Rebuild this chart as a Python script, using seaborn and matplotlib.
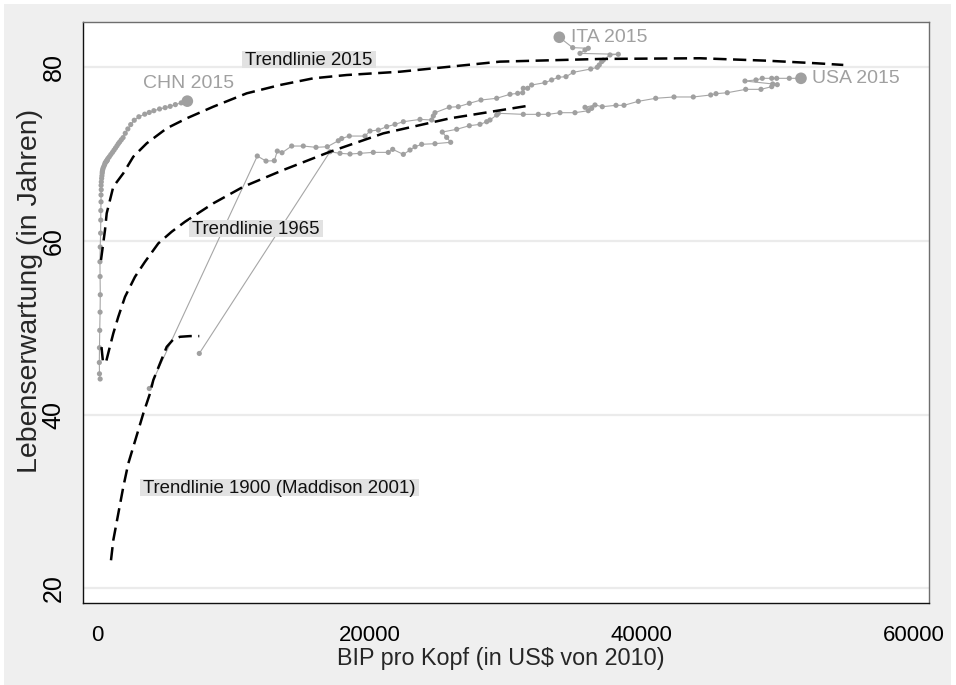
import numpy as np
import pandas as pd
import seaborn as sns
import matplotlib
matplotlib.use("Agg")
import matplotlib.pyplot as plt
from matplotlib.patches import Rectangle

# ---------------- data ----------------
chn_gdp = [195, 145, 135, 145, 165, 190, 205, 190, 180, 200,
           230, 240, 245, 260, 260, 275, 265, 280, 305, 325,
           345, 355, 380, 415, 470, 525, 565, 620, 680, 700,
           715, 770, 870, 980, 1100, 1210, 1320, 1430, 1530, 1630,
           1750, 1880, 2040, 2230, 2440, 2700, 3040, 3470, 3800, 4140,
           4560, 4970, 5340, 5720, 6150, 6600]
chn_le = [44.1, 44.7, 46.0, 47.7, 49.7, 51.8, 53.8, 55.9, 57.6, 59.3,
          60.9, 62.4, 63.5, 64.5, 65.3, 65.9, 66.4, 66.8, 67.2, 67.5,
          67.8, 68.0, 68.2, 68.4, 68.6, 68.8, 69.0, 69.1, 69.2, 69.3,
          69.3, 69.5, 69.7, 69.95, 70.2, 70.45, 70.7, 70.95, 71.2, 71.4,
          71.65, 71.9, 72.4, 72.9, 73.4, 73.9, 74.3, 74.6, 74.8, 75.0,
          75.2, 75.35, 75.5, 75.7, 75.9, 76.1]

ita_gdp = [3806, 11742, 12381, 12991, 13212, 13556, 14269, 15121, 16055, 16885,
           17693, 17942, 18502, 19655, 20022, 20636, 21249, 21859, 22472, 23696,
           24555, 24675, 24798, 25849, 26512, 27320, 28178, 29331, 30309, 30874,
           31241, 31285, 31606, 31900, 32880, 33370, 33860, 34424, 34960, 36237,
           36722, 36869, 37046, 37164, 37656, 38266, 35452, 35820, 36062, 34915,
           33931]
ita_le = [43.0, 69.78, 69.2, 69.24, 70.35, 70.16, 70.93, 70.93, 70.78, 70.85,
          71.54, 71.8, 72.08, 72.08, 72.66, 72.77, 73.16, 73.43, 73.73, 74.0,
          73.93, 74.39, 74.77, 75.4, 75.46, 75.85, 76.23, 76.43, 76.89, 77.0,
          77.07, 77.58, 77.58, 77.96, 78.23, 78.54, 78.85, 78.92, 79.42, 79.8,
          80.0, 80.27, 80.65, 80.84, 81.42, 81.5, 81.6, 81.99, 82.19, 82.26,
          83.46]

usa_gdp = [7480, 17083, 17818, 18553, 19287, 20264, 21367, 21690, 22472, 22962,
           23329, 23818, 24798, 25950, 25656, 25334, 26393, 27320, 28104, 28594,
           28839, 29331, 29450, 31285, 32388, 33123, 33982, 35085, 36062, 36311,
           35820, 36554, 37090, 38097, 38685, 39736, 41014, 42358, 43777, 45055,
           45444, 46274, 47627, 48751, 49537, 49949, 49610, 47575, 48383, 48846,
           49537, 49903, 50830, 51690]
usa_le = [47.04, 70.27, 70.09, 70.01, 70.09, 70.2, 70.2, 70.55, 69.97, 70.47,
          70.85, 71.13, 71.2, 71.36, 71.93, 72.54, 72.86, 73.27, 73.43, 73.73,
          73.93, 74.5, 74.7, 74.58, 74.58, 74.58, 74.77, 74.77, 75.0, 75.27,
          75.39, 75.66, 75.46, 75.62, 75.62, 76.08, 76.43, 76.58, 76.58, 76.81,
          76.96, 77.07, 77.46, 77.46, 77.77, 78.0, 78.08, 78.42, 78.54, 78.73,
          78.73, 78.73, 78.73, 78.73]

trend2015_x = [257, 551, 676, 918, 1161, 1896, 2630, 3615, 5085, 6554, 8508,
               10963, 13417, 15856, 18310, 22223, 25900, 29574, 36922, 44269,
               49170, 52844, 54798]
trend2015_y = [57.8, 61.25, 63.18, 64.71, 66.24, 67.79, 69.7, 71.24, 72.97, 74.12,
               75.46, 77.0, 77.96, 78.73, 79.11, 79.49, 80.07, 80.65, 80.96, 81.04,
               80.76, 80.46, 80.27]

trend1965_x = [294, 404, 625, 845, 1161, 1528, 2021, 2755, 3490, 4470, 5450, 6429,
               8508, 10713, 13652, 17083, 21000, 25900, 31536]
trend1965_y = [47.77, 46.04, 46.04, 47.42, 49.35, 51.26, 53.56, 55.87, 57.6, 59.72,
               61.06, 62.21, 64.33, 66.24, 68.17, 70.27, 72.39, 74.12, 75.54]

trend1900_x = [992, 1161, 1528, 1896, 2263, 2630, 2998, 3365, 3857, 4100, 4592,
               5085, 5569, 6062, 6796, 7480]
trend1900_y = [23.22, 25.53, 28.6, 31.67, 34.37, 36.28, 38.2, 40.13, 42.43, 43.97,
               45.89, 47.8, 48.66, 48.96, 49.04, 49.04]

country_labels = ["CHN 2015", "ITA 2015", "USA 2015"]
country_label_pos = [(3321, 78.16), (34791, 83.43), (52520, 78.71)]
trend_labels = ["Trendlinie 2015", "Trendlinie 1965", "Trendlinie 1900 (Maddison 2001)"]
trend_label_pos = [(10838, 80.73), (6943, 61.29), (3343, 31.49)]

xticks = [0, 20000, 40000, 60000]
yticks = [20, 40, 60, 80]

# ---------------- style ----------------
sns.set_theme(style="white")
plt.rcParams['font.family'] = ['Liberation Sans', 'DejaVu Sans']

W, H = 956, 685
fig = plt.figure(figsize=(W / 100, H / 100), dpi=100, facecolor='white')
fig.patches.append(Rectangle((4 / W, 0), (951 - 4) / W, (H - 4) / H,
                             transform=fig.transFigure, facecolor='#efefef',
                             edgecolor='none', zorder=-10))
L, R, T, B = 83.3, 929.3, 21.7, 603.0
ax = fig.add_axes([L / W, 1 - B / H, (R - L) / W, (B - T) / H])
ax.set_facecolor('white')

ax.set_xlim(-1043, 61117)
ax.set_ylim(18.3, 85.25)

trail_color = '#a6a6a6'
dot_color = '#a0a0a0'

for gx, gy in [(chn_gdp, chn_le), (ita_gdp, ita_le), (usa_gdp, usa_le)]:
    df = pd.DataFrame({'x': gx, 'y': gy})
    sns.lineplot(data=df, x='x', y='y', sort=False, estimator=None,
                 color=trail_color, lw=0.8, ax=ax, zorder=2)
    sns.scatterplot(data=df.iloc[:-1], x='x', y='y', color=dot_color, s=14,
                    edgecolor='none', linewidth=0, ax=ax, zorder=3)
    sns.scatterplot(data=df.iloc[-1:], x='x', y='y', color=dot_color, s=70,
                    edgecolor='none', linewidth=0, ax=ax, zorder=3)

for tx, ty in [(trend2015_x, trend2015_y), (trend1965_x, trend1965_y),
               (trend1900_x, trend1900_y)]:
    df = pd.DataFrame({'x': tx, 'y': ty})
    sns.lineplot(data=df, x='x', y='y', sort=False, estimator=None,
                 color='black', lw=1.8, ax=ax, zorder=4)
    ax.lines[-1].set_linestyle((0, (5.3, 2.6)))

for lab, (lx, ly) in zip(country_labels, country_label_pos):
    ax.text(lx, ly, lab, color='#a0a0a0', fontsize=14, ha='left', va='center',
            zorder=5)

trend_texts = []
for lab, (lx, ly) in zip(trend_labels, trend_label_pos):
    t = ax.text(lx, ly, lab, color='#111111', fontsize=13.4, ha='left',
                va='center', zorder=6)
    trend_texts.append(t)

ax.set_xticks(xticks)
ax.set_xticklabels([str(v) for v in xticks])
ax.set_yticks(yticks)
ax.set_yticklabels([str(v) for v in yticks], rotation=90, va='center')
ax.tick_params(axis='both', direction='out', length=9, width=1, color='#222222',
               labelcolor='black')
ax.tick_params(axis='x', labelsize=16, pad=7)
ax.tick_params(axis='y', labelsize=18, pad=3.9)
ax.yaxis.grid(True, color='#ebebeb', lw=1.6)
ax.xaxis.grid(False)
ax.set_axisbelow(True)

for side in ['left', 'bottom']:
    ax.spines[side].set_color('#111111')
    ax.spines[side].set_linewidth(1.0)
for side in ['top', 'right']:
    ax.spines[side].set_color('#6e6e6e')
    ax.spines[side].set_linewidth(1.0)

ax.set_xlabel('BIP pro Kopf (in US$ von 2010)', fontsize=16.8)
ax.set_ylabel('Lebenserwartung (in Jahren)', fontsize=20.5)
ax.xaxis.set_label_coords((501 - L) / (R - L), (B - 658) / (B - T))
ax.xaxis.label.set_va('center')
ax.yaxis.set_label_coords((30 - L) / (R - L), (B - 291) / (B - T))
ax.yaxis.label.set_va('center')

# gray boxes behind trend labels
fig.canvas.draw()
inv = fig.transFigure.inverted()
for t in trend_texts:
    bb = t.get_window_extent()
    cy = (bb.y0 + bb.y1) / 2 + 1.0
    x0, x1 = bb.x0 - 3, bb.x1 + 4
    y0, y1 = cy - 8.5, cy + 8.5
    (fx0, fy0) = inv.transform((x0, y0))
    (fx1, fy1) = inv.transform((x1, y1))
    ax.add_patch(Rectangle((fx0, fy0), fx1 - fx0, fy1 - fy0,
                           transform=fig.transFigure, facecolor='#e2e2e2',
                           edgecolor='none', zorder=5.5))

fig.savefig('out.png', dpi=100, facecolor=fig.get_facecolor())
